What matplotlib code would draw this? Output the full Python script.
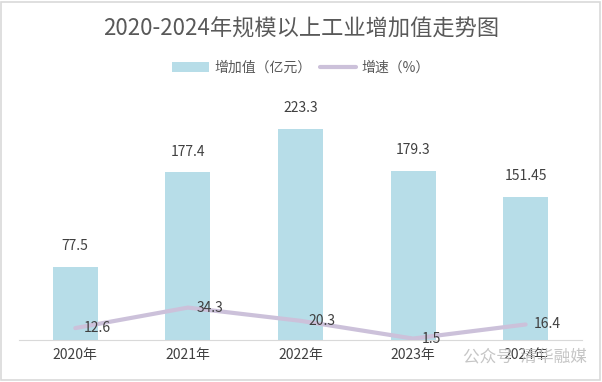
import matplotlib.pyplot as plt
from matplotlib.patches import Rectangle

plt.rcParams['font.family'] = ['Noto Sans CJK SC', 'DejaVu Sans']

years = ["2020年", "2021年", "2022年", "2023年", "2024年"]
value_added = [77.5, 177.4, 223.3, 179.3, 151.45]
value_labels = ["77.5", "177.4", "223.3", "179.3", "151.45"]
growth = [12.6, 34.3, 20.3, 1.5, 16.4]

bar_color = "#b7dde8"
line_color = "#ccc1da"
text_color = "#404040"

fig = plt.figure(figsize=(6.02, 3.82), dpi=100)
ax = fig.add_axes([0.0316, 0.11, 0.935, 0.618])
x = list(range(len(years)))

bars = ax.bar(x, value_added, width=0.4, color=bar_color, label="增加值（亿元）", zorder=2)
ax.set_xlim(-0.5, 4.5)
ax.set_ylim(0, 250)
for xi, v, lab in zip(x, value_added, value_labels):
    ax.annotate(lab, (xi, v), xytext=(0, 10), textcoords="offset points",
                ha="center", va="bottom", fontsize=10, color=text_color)

ax2 = ax.twinx()
ax2.set_ylim(0, 250)
line, = ax2.plot(x, growth, color=line_color, lw=3, solid_capstyle="round",
                 label="增速（%）", zorder=3)
for xi, g in zip(x, growth):
    ax2.annotate(f"{g}", (xi, g), xytext=(6, 0), textcoords="offset points",
                 ha="left", va="center", fontsize=10, color=text_color)

for a in (ax, ax2):
    for s in ("top", "right", "left"):
        a.spines[s].set_visible(False)
    a.set_yticks([])
ax2.spines["bottom"].set_visible(False)
ax.spines["bottom"].set_color("#d9d9d9")
ax.set_xticks(x)
ax.set_xticklabels(years, fontsize=10, color=text_color)
ax.tick_params(axis="x", length=0, pad=6)

fig.text(0.5, 0.925, "2020-2024年规模以上工业增加值走势图", ha="center", va="center",
         fontsize=16, color="#595959")
fig.legend(handles=[bars, line], loc="center", bbox_to_anchor=(0.5, 0.822), ncol=2,
           frameon=False, fontsize=10, labelcolor="#595959", handlelength=2.6,
           handletextpad=0.4, columnspacing=0.6)

fig.text(0.975, 0.065, "公众号  清华融媒", ha="right", va="center", fontsize=12,
         color="#c0c0c0", alpha=0.9)

fig.patches.append(Rectangle((0.002, 0.004), 0.994, 0.99, transform=fig.transFigure,
                             fill=False, edgecolor="#d9d9d9", lw=1.2))

fig.savefig("out.png", dpi=100)
